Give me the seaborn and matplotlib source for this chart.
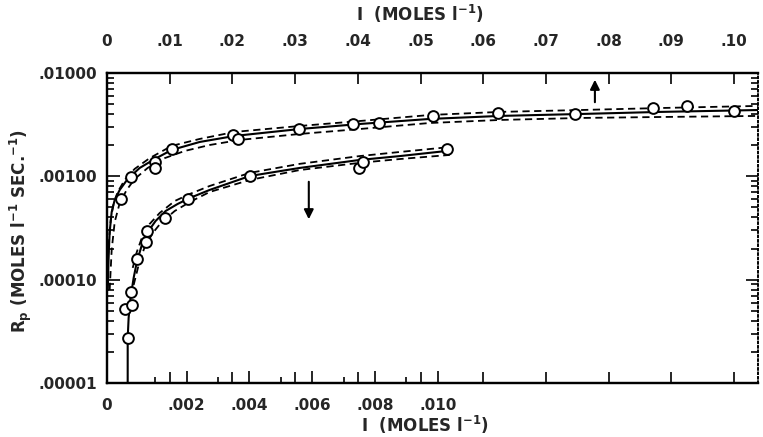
import numpy as np
import matplotlib
matplotlib.use("Agg")
import matplotlib.pyplot as plt
import seaborn as sns
from matplotlib.ticker import FixedLocator, LogLocator, NullFormatter

# upper series (read against the top axis)
upper_i = [0.0022, 0.0039, 0.0076, 0.0076, 0.0103, 0.0201, 0.0209, 0.0306,
           0.0392, 0.0434, 0.0520, 0.0624, 0.0746, 0.0871, 0.0925, 0.1000]
upper_rp = [6.0e-4, 9.8e-4, 1.38e-3, 1.20e-3, 1.84e-3, 2.51e-3, 2.30e-3, 2.87e-3,
            3.21e-3, 3.28e-3, 3.84e-3, 4.10e-3, 4.01e-3, 4.58e-3, 4.80e-3, 4.29e-3]

upper_fit_i = [0.00013, 0.00027, 0.00043, 0.00075, 0.00123, 0.00203, 0.00330, 0.00522,
               0.00761, 0.01032, 0.01479, 0.02037, 0.03075, 0.04032, 0.05144, 0.06261,
               0.07544, 0.08821, 0.1038]
upper_fit_rp = [7.94e-5, 1.73e-4, 2.89e-4, 4.52e-4, 5.90e-4, 7.38e-4, 9.42e-4, 1.205e-3,
                1.47e-3, 1.80e-3, 2.15e-3, 2.46e-3, 2.87e-3, 3.21e-3, 3.59e-3, 3.84e-3,
                4.01e-3, 4.20e-3, 4.38e-3]

upper_hi_i = [0.00011, 0.00027, 0.00059, 0.00107, 0.00171, 0.00282, 0.00442, 0.00681,
              0.01032, 0.01479, 0.02037, 0.03075, 0.04032, 0.05144, 0.06261, 0.07544,
              0.08821, 0.1038]
upper_hi_rp = [1.24e-4, 2.16e-4, 3.78e-4, 5.52e-4, 7.05e-4, 9.22e-4, 1.18e-3, 1.50e-3,
               1.97e-3, 2.30e-3, 2.69e-3, 3.07e-3, 3.43e-3, 3.92e-3, 4.20e-3, 4.38e-3,
               4.58e-3, 4.80e-3]

upper_lo_i = [0.00043, 0.00075, 0.00123, 0.00203, 0.00314, 0.00442, 0.00649, 0.00921,
              0.01240, 0.01639, 0.02118, 0.03075, 0.04032, 0.05144, 0.06261, 0.07544,
              0.08821, 0.1038]
upper_lo_rp = [7.94e-5, 1.94e-4, 3.61e-4, 5.52e-4, 7.38e-4, 9.42e-4, 1.205e-3, 1.50e-3,
               1.76e-3, 2.01e-3, 2.25e-3, 2.57e-3, 2.87e-3, 3.28e-3, 3.51e-3, 3.67e-3,
               3.75e-3, 3.84e-3]

# lower series (read against the bottom axis)
lower_i = [0.00012, 0.00002, 0.00025, 0.00021, 0.00041, 0.00069, 0.00073, 0.00130,
           0.00203, 0.00401, 0.00748, 0.00761, 0.01029]
lower_rp = [2.72e-5, 5.20e-5, 5.69e-5, 7.60e-5, 1.585e-4, 2.31e-4, 2.96e-4, 3.95e-4,
            6.03e-4, 1.007e-3, 1.205e-3, 1.377e-3, 1.838e-3]

lower_fit_i = [0.00012, 0.00012, 0.00015, 0.00021, 0.00031, 0.00041, 0.00057, 0.00076,
               0.00101, 0.00133, 0.00171, 0.00210, 0.00273, 0.00401, 0.00560, 0.00751,
               0.00879, 0.01029]
lower_fit_rp = [1.0e-5, 2.72e-5, 4.26e-5, 6.64e-5, 1.04e-4, 1.48e-4, 2.16e-4, 2.89e-4,
                3.70e-4, 4.62e-4, 5.40e-4, 6.17e-4, 7.38e-4, 1.007e-3, 1.205e-3, 1.44e-3,
                1.57e-3, 1.76e-3]

lower_hi_i = [0.00028, 0.00041, 0.00057, 0.00082, 0.00114, 0.00162, 0.00210, 0.00273,
              0.00401, 0.00560, 0.00751, 0.00879, 0.01038]
lower_hi_rp = [1.30e-4, 1.85e-4, 2.53e-4, 3.46e-4, 4.42e-4, 5.77e-4, 6.75e-4, 8.06e-4,
               1.08e-3, 1.32e-3, 1.57e-3, 1.72e-3, 1.92e-3]

lower_lo_i = [0.00031, 0.00047, 0.00066, 0.00092, 0.00120, 0.00162, 0.00210, 0.00273,
              0.00401, 0.00560, 0.00751, 0.00879, 0.01038]
lower_lo_rp = [8.88e-5, 1.39e-4, 2.07e-4, 2.83e-4, 3.61e-4, 4.62e-4, 5.64e-4, 7.05e-4,
               9.22e-4, 1.15e-3, 1.35e-3, 1.47e-3, 1.61e-3]

bottom_ticks = [0.002, 0.004, 0.006, 0.008, 0.010]
bottom_labels = [".002", ".004", ".006", ".008", ".010"]
top_ticks = [0, 0.01, 0.02, 0.03, 0.04, 0.05, 0.06, 0.07, 0.08, 0.09, 0.10]
top_labels = ["0", ".01", ".02", ".03", ".04", ".05", ".06", ".07", ".08", ".09", ".10"]
y_ticks = [1e-5, 1e-4, 1e-3, 1e-2]
y_labels = [".00001", ".00010", ".00100", ".01000"]

sns.set_theme(style="ticks")
plt.rcParams["font.family"] = ["DejaVu Sans Condensed", "DejaVu Sans"]
plt.rcParams["font.weight"] = "bold"
plt.rcParams["mathtext.default"] = "bf"

fig = plt.figure(figsize=(7.63, 4.37), dpi=100)
ax = fig.add_axes([0.1402, 0.1236, 0.8532, 0.7094])
ax2 = ax.twiny()

bottom_min = -0.00054
ax.set_xlim(bottom_min, 0.0202)
ax2.set_xlim(0, 0.1038)
ax.set_yscale("log")
ax.set_ylim(1e-5, 1e-2)

dash = (0, (4, 2.5))
line_kw = dict(color="black", sort=False, estimator=None, legend=False)
# upper curve + bands on the top scale
sns.lineplot(x=upper_fit_i, y=upper_fit_rp, ax=ax2, linewidth=1.5, **line_kw)
sns.lineplot(x=upper_hi_i, y=upper_hi_rp, ax=ax2, linewidth=1.3, linestyle=dash, **line_kw)
sns.lineplot(x=upper_lo_i, y=upper_lo_rp, ax=ax2, linewidth=1.3, linestyle=dash, **line_kw)
sns.scatterplot(x=upper_i, y=upper_rp, ax=ax2, marker="o", s=60, facecolor="white",
                edgecolor="black", linewidth=1.4, zorder=5, legend=False)

# lower curve + bands on the bottom scale
sns.lineplot(x=lower_fit_i, y=lower_fit_rp, ax=ax, linewidth=1.5, **line_kw)
sns.lineplot(x=lower_hi_i, y=lower_hi_rp, ax=ax, linewidth=1.3, linestyle=dash, **line_kw)
sns.lineplot(x=lower_lo_i, y=lower_lo_rp, ax=ax, linewidth=1.3, linestyle=dash, **line_kw)
sns.scatterplot(x=lower_i, y=lower_rp, ax=ax, marker="o", s=60, facecolor="white",
                edgecolor="black", linewidth=1.4, zorder=5, legend=False)

# arrows telling which scale belongs to which curve
ax2.annotate("", xy=(0.0778, 9.15e-3), xytext=(0.0778, 4.9e-3),
             arrowprops=dict(arrowstyle="-|>", color="black", lw=1.5, mutation_scale=14))
ax.annotate("", xy=(0.00589, 3.61e-4), xytext=(0.00589, 9.42e-4),
            arrowprops=dict(arrowstyle="-|>", color="black", lw=1.5, mutation_scale=14))

# bottom axis
ax.xaxis.set_major_locator(FixedLocator([bottom_min] + bottom_ticks))
ax.set_xticklabels(["0"] + bottom_labels)
ax.xaxis.set_minor_locator(FixedLocator([0.001, 0.003, 0.005, 0.007, 0.009]))
ax.tick_params(axis="x", which="major", direction="in", length=9, width=1.4,
               bottom=True, top=False, pad=11, labelsize=11)
ax.tick_params(axis="x", which="minor", direction="in", length=4, width=1.4,
               bottom=True, top=False)

# y axis
ax.yaxis.set_major_locator(FixedLocator(y_ticks))
ax.set_yticklabels(y_labels)
ax.yaxis.set_minor_locator(LogLocator(base=10, subs=np.arange(2, 10)))
ax.yaxis.set_minor_formatter(NullFormatter())
ax.tick_params(axis="y", which="major", direction="in", length=9, width=1.4,
               left=True, right=True, labelright=False, pad=7, labelsize=11)
ax.tick_params(axis="y", which="minor", direction="in", length=5, width=1.4,
               left=True, right=True)

# top axis
ax2.xaxis.set_major_locator(FixedLocator(top_ticks))
ax2.set_xticklabels(top_labels)
ax2.tick_params(axis="x", which="major", direction="in", length=8, width=1.4,
                top=True, bottom=True, labeltop=True, labelbottom=False, pad=17, labelsize=11)

for a in (ax, ax2):
    for side in ("top", "bottom", "left"):
        a.spines[side].set_linewidth(1.6)
        a.spines[side].set_color("black")
    a.spines["right"].set_linestyle(":")
    a.spines["right"].set_linewidth(1.2)
    a.spines["right"].set_color("black")

ax.set_xlabel("I  (MOLES l$^{-1}$)", fontsize=12, fontweight="bold", va="center")
ax.xaxis.set_label_coords(0.488, -0.135)
ax2.set_xlabel("I  (MOLES l$^{-1}$)", fontsize=12, fontweight="bold", va="center")
ax2.xaxis.set_label_coords(0.481, 1.19)
ax.set_ylabel("R$_p$ (MOLES l$^{-1}$ SEC.$^{-1}$)", fontsize=12, fontweight="bold", va="center")
ax.yaxis.set_label_coords(-0.133, 0.49)

fig.savefig("out.png", dpi=100)
plt.close(fig)
